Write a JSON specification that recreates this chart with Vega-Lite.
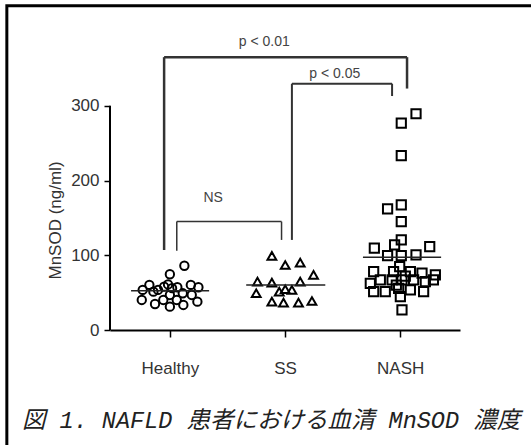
{
  "$schema": "https://vega.github.io/schema/vega-lite/v6.json",
  "width": 350,
  "height": 299,
  "autosize": {"type": "none"},
  "padding": {"left": 110, "top": 31, "right": 71, "bottom": 115},
  "background": "white",
  "config": {"view": {"stroke": null}, "font": "Liberation Sans"},
  "datasets": {
    "points": [
      {"g": "Healthy", "x": 1.126, "y": 86},
      {"g": "Healthy", "x": 1.0, "y": 74.6},
      {"g": "Healthy", "x": 0.764, "y": 53.6},
      {"g": "Healthy", "x": 0.822, "y": 60.3},
      {"g": "Healthy", "x": 0.95, "y": 58},
      {"g": "Healthy", "x": 0.984, "y": 61},
      {"g": "Healthy", "x": 1.019, "y": 56},
      {"g": "Healthy", "x": 1.065, "y": 57.2},
      {"g": "Healthy", "x": 1.182, "y": 60.3},
      {"g": "Healthy", "x": 1.248, "y": 57.2},
      {"g": "Healthy", "x": 0.857, "y": 51.3},
      {"g": "Healthy", "x": 0.897, "y": 53.6},
      {"g": "Healthy", "x": 0.756, "y": 40.2},
      {"g": "Healthy", "x": 0.871, "y": 34.8},
      {"g": "Healthy", "x": 0.943, "y": 40.2},
      {"g": "Healthy", "x": 1.06, "y": 40.2},
      {"g": "Healthy", "x": 1.0, "y": 31.2},
      {"g": "Healthy", "x": 1.117, "y": 33.5},
      {"g": "Healthy", "x": 1.239, "y": 37.9},
      {"g": "Healthy", "x": 1.0, "y": 46.9},
      {"g": "Healthy", "x": 1.112, "y": 49.1},
      {"g": "Healthy", "x": 1.19, "y": 46.9},
      {"g": "SS", "x": 1.886, "y": 99.1},
      {"g": "SS", "x": 2.002, "y": 87},
      {"g": "SS", "x": 2.132, "y": 90.1},
      {"g": "SS", "x": 2.248, "y": 73.7},
      {"g": "SS", "x": 1.761, "y": 64.7},
      {"g": "SS", "x": 1.886, "y": 63.4},
      {"g": "SS", "x": 2.132, "y": 64.7},
      {"g": "SS", "x": 2.002, "y": 54.5},
      {"g": "SS", "x": 2.06, "y": 53.6},
      {"g": "SS", "x": 1.95, "y": 51.3},
      {"g": "SS", "x": 1.75, "y": 49.1},
      {"g": "SS", "x": 1.886, "y": 37.9},
      {"g": "SS", "x": 1.987, "y": 36.6},
      {"g": "SS", "x": 2.117, "y": 36.6},
      {"g": "SS", "x": 2.234, "y": 38.8},
      {"g": "NASH", "x": 3.138, "y": 289.3},
      {"g": "NASH", "x": 3.01, "y": 276.8},
      {"g": "NASH", "x": 3.01, "y": 233.4},
      {"g": "NASH", "x": 3.01, "y": 167.4},
      {"g": "NASH", "x": 2.891, "y": 162},
      {"g": "NASH", "x": 3.01, "y": 145},
      {"g": "NASH", "x": 3.01, "y": 120.5},
      {"g": "NASH", "x": 2.776, "y": 109.4},
      {"g": "NASH", "x": 2.952, "y": 113.8},
      {"g": "NASH", "x": 3.257, "y": 111.6},
      {"g": "NASH", "x": 2.891, "y": 99.5},
      {"g": "NASH", "x": 3.01, "y": 99.5},
      {"g": "NASH", "x": 3.138, "y": 100.4},
      {"g": "NASH", "x": 2.77, "y": 78},
      {"g": "NASH", "x": 2.996, "y": 84.8},
      {"g": "NASH", "x": 2.943, "y": 78},
      {"g": "NASH", "x": 3.089, "y": 78},
      {"g": "NASH", "x": 3.19, "y": 76},
      {"g": "NASH", "x": 3.306, "y": 73.7},
      {"g": "NASH", "x": 2.741, "y": 62.5},
      {"g": "NASH", "x": 2.828, "y": 67},
      {"g": "NASH", "x": 2.93, "y": 67},
      {"g": "NASH", "x": 3.016, "y": 67},
      {"g": "NASH", "x": 3.117, "y": 67},
      {"g": "NASH", "x": 3.219, "y": 64.7},
      {"g": "NASH", "x": 3.289, "y": 67},
      {"g": "NASH", "x": 2.77, "y": 51.3},
      {"g": "NASH", "x": 2.871, "y": 51.3},
      {"g": "NASH", "x": 2.987, "y": 55.8},
      {"g": "NASH", "x": 3.089, "y": 53.6},
      {"g": "NASH", "x": 3.204, "y": 51.3},
      {"g": "NASH", "x": 3.002, "y": 44.6},
      {"g": "NASH", "x": 3.016, "y": 26.8},
      {"g": "NASH", "x": 2.967, "y": 60},
      {"g": "NASH", "x": 3.045, "y": 72}
    ],
    "means": [
      {"g": "Healthy", "x": 0.663, "x2": 1.341, "y": 52.6},
      {"g": "SS", "x": 1.663, "x2": 2.35, "y": 60.3},
      {"g": "NASH", "x": 2.677, "x2": 3.356, "y": 97.3}
    ],
    "brackets": [
      {"b": "outer", "x": 0.95, "x2": 3.06, "y": 365, "y2": 365},
      {"b": "outer", "x": 0.95, "x2": 0.95, "y": 365, "y2": 107},
      {"b": "outer", "x": 3.06, "x2": 3.06, "y": 365, "y2": 323},
      {"b": "inner", "x": 2.06, "x2": 2.93, "y": 329.5, "y2": 329.5},
      {"b": "inner", "x": 2.06, "x2": 2.06, "y": 329.5, "y2": 120.5},
      {"b": "inner", "x": 2.93, "x2": 2.93, "y": 329.5, "y2": 313},
      {"b": "ns", "x": 1.06, "x2": 1.97, "y": 145, "y2": 145},
      {"b": "ns", "x": 1.06, "x2": 1.06, "y": 145, "y2": 106},
      {"b": "ns", "x": 1.97, "x2": 1.97, "y": 145, "y2": 120.5}
    ],
    "labels": [
      {"x": 1.82, "y": 385.7, "t": "p < 0.01"},
      {"x": 2.432, "y": 342.8, "t": "p < 0.05"},
      {"x": 1.376, "y": 176.8, "t": "NS"}
    ],
    "caption": [
      {"x": -0.285, "y": -131.2, "t": "図 1. NAFLD 患者における血清 MnSOD 濃度"}
    ],
    "yline": [{"x": 0.48, "y": 0, "y2": 300}],
    "frame": [{"x": -0.416, "x2": 4.3, "y": 433.9, "y2": -170}]
  },
  "encoding": {
    "x": {
      "field": "x",
      "type": "quantitative",
      "scale": {"domain": [0.48, 3.52], "nice": false, "zero": false},
      "axis": {
        "values": [1, 2, 3],
        "labelExpr": "datum.value == 1 ? 'Healthy' : datum.value == 2 ? 'SS' : 'NASH'",
        "title": null,
        "grid": false,
        "domainColor": "black",
        "domainWidth": 2,
        "tickColor": "black",
        "tickWidth": 1.5,
        "tickSize": 7,
        "labelFontSize": 17,
        "labelColor": "#333",
        "labelPadding": 23,
        "labelFont": "Liberation Sans",
        "labelFlush": false
      }
    },
    "y": {
      "field": "y",
      "type": "quantitative",
      "scale": {"domain": [0, 400], "nice": false, "zero": false},
      "axis": {
        "values": [0, 100, 200, 300],
        "domain": false,
        "grid": false,
        "tickColor": "black",
        "tickWidth": 1.5,
        "tickSize": 6,
        "labelFontSize": 17,
        "labelColor": "#333",
        "labelPadding": 5,
        "labelFont": "Liberation Sans",
        "title": "MnSOD (ng/ml)",
        "titleFont": "Liberation Sans",
        "titleFontSize": 17,
        "titleFontWeight": "normal",
        "titleColor": "#333",
        "titleX": -55,
        "titleY": 189,
        "titleAlign": "center",
        "titleBaseline": "middle",
        "titleAngle": -90
      }
    }
  },
  "layer": [
    {
      "data": {"name": "frame"},
      "mark": {"type": "rect", "fillOpacity": 0, "stroke": "black", "strokeWidth": 3},
      "encoding": {"x2": {"field": "x2"}, "y2": {"field": "y2"}}
    },
    {
      "data": {"name": "yline"},
      "mark": {"type": "rule", "color": "black", "strokeWidth": 2},
      "encoding": {"y2": {"field": "y2"}}
    },
    {
      "data": {"name": "brackets"},
      "mark": {"type": "rule", "color": "#333"},
      "encoding": {
        "x2": {"field": "x2"},
        "y2": {"field": "y2"},
        "strokeWidth": {"field": "b", "type": "nominal", "scale": {"domain": ["outer", "inner", "ns"], "range": [2.5, 1.5, 1.5]}, "legend": null}
      }
    },
    {
      "data": {"name": "points"},
      "mark": {"type": "point", "filled": false, "strokeWidth": 2, "opacity": 1, "color": "black"},
      "encoding": {
        "shape": {"field": "g", "type": "nominal", "scale": {"domain": ["Healthy", "SS", "NASH"], "range": ["circle", "triangle-up", "square"]}, "legend": null},
        "size": {"field": "g", "type": "nominal", "scale": {"domain": ["Healthy", "SS", "NASH"], "range": [70, 85, 90]}, "legend": null}
      }
    },
    {
      "data": {"name": "means"},
      "mark": {"type": "rule", "color": "#222", "strokeWidth": 1.5},
      "encoding": {"x2": {"field": "x2"}}
    },
    {
      "data": {"name": "labels"},
      "mark": {"type": "text", "fontSize": 14, "color": "#444", "baseline": "middle", "align": "center", "font": "Liberation Sans"},
      "encoding": {"text": {"field": "t"}}
    },
    {
      "data": {"name": "caption"},
      "mark": {"type": "text", "fontSize": 23.5, "color": "#222", "baseline": "alphabetic", "align": "left", "font": "Liberation Mono, Noto Sans CJK JP", "fontStyle": "italic"},
      "encoding": {"text": {"field": "t"}}
    }
  ]
}
